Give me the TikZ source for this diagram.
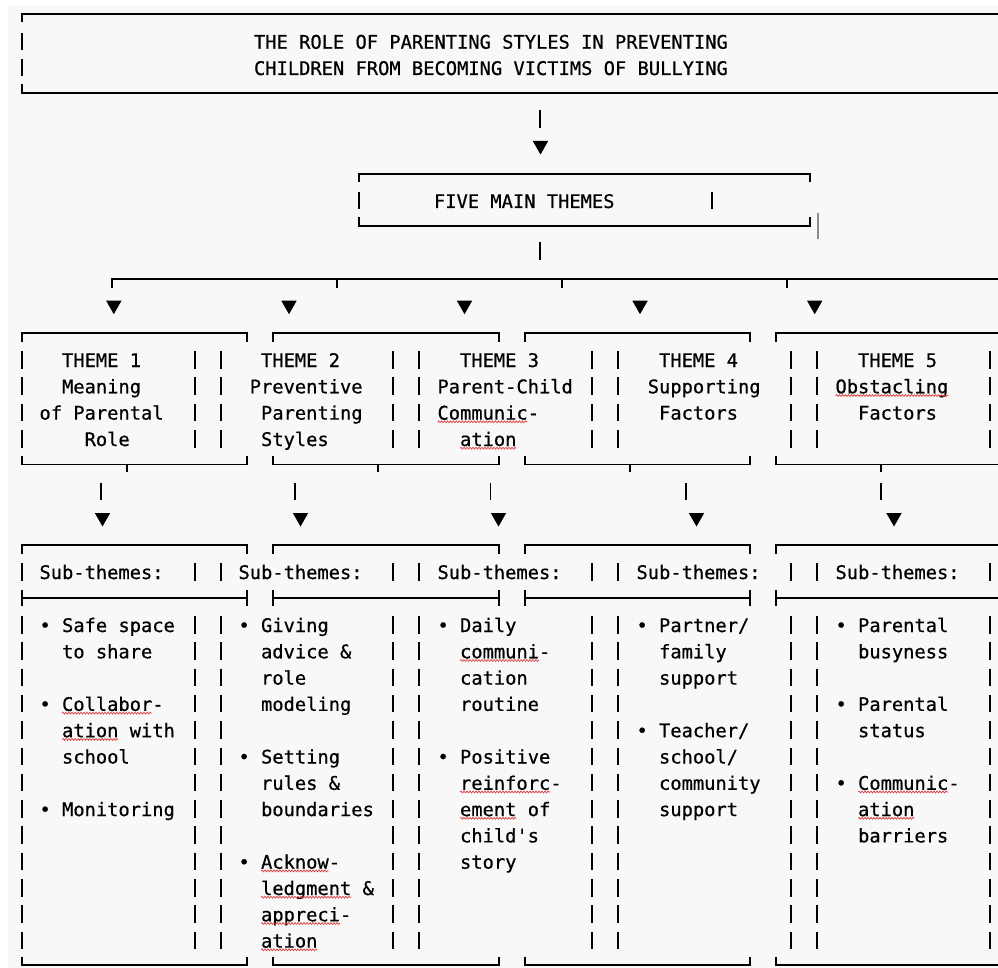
\documentclass[tikz,border=0pt]{standalone}
\usepackage{fontspec}
\setmonofont[FakeBold=0.6]{DejaVu Sans Mono}
\usetikzlibrary{decorations.pathmorphing}
\definecolor{bgc}{HTML}{F8F8F8}
\definecolor{sqred}{HTML}{E23A3A}
\definecolor{cursorgray}{HTML}{8C8C8C}
\tikzset{
  txt/.style={anchor=base west, inner sep=0pt, outer sep=0pt,
    font=\ttfamily\fontsize{18.74pt}{22pt}\selectfont, text=black},
  hl/.style={line width=1.5pt, black},
  vb/.style={line width=1.7pt, black},
  sqs/.style={draw=sqred, line width=0.7pt,
    decorate, decoration={snake, amplitude=0.9pt, segment length=3pt}},
}
\newcommand\vbr[2]{\draw[vb] (#1,#2-16) -- (#1,#2+1.5);}
\newcommand\tri[2]{\fill (#1-7.7,#2) -- (#1+7.7,#2) -- (#1,#2+13.5) -- cycle;}
\newcommand\boxtop[3]{\draw[hl] (#1,#3+8.5) -- (#1,#3) -- (#2,#3) -- (#2,#3+8.5);}
\newcommand\boxbot[3]{\draw[hl] (#1,#3-8.5) -- (#1,#3) -- (#2,#3) -- (#2,#3-8.5);}
\newcommand\sq[3]{\path[sqs] (#1,#2+2.2) -- (#1+#3*11.28,#2+2.2);}
\begin{document}
\begin{tikzpicture}[x=1pt,y=-1pt]
\useasboundingbox (0,0) rectangle (998,968);
\fill[white] (0,0) rectangle (998,968);
\fill[bgc] (8,6) rectangle (998,968);

% ---------- title box ----------
\draw[hl] (22,22.5) -- (22,14) -- (998,14);
\draw[hl] (22,84.5) -- (22,93) -- (998,93);
\vbr{22}{48.7}
\vbr{22}{75}
\node[txt] (title1) at (254,48.7) {THE ROLE OF PARENTING STYLES IN PREVENTING};
\node[txt] (title2) at (254,75) {CHILDREN FROM BECOMING VICTIMS OF BULLYING};

% arrow to five themes
\vbr{540}{126.5}
\tri{540.5}{141}

% ---------- five main themes ----------
\boxtop{359}{810}{174}
\boxbot{359}{810}{226}
\vbr{359}{208}
\vbr{712}{208}
\draw[cursorgray, line width=1.5pt] (818,213) -- (818,239.5);
\node[txt] (five) at (434,208) {FIVE MAIN THEMES};

\vbr{540}{258.5}

% distribution line
\draw[hl] (112,287.5) -- (112,279) -- (998,279);
\foreach \x in {337,562,787} {\draw[hl] (\x,279) -- (\x,287.5);}
\foreach \x in {113.8,289,464.5,640,814.7} {\tri{\x}{300.7}}

% ---------- theme boxes ----------
\boxtop{22}{247}{333}
\boxtop{273}{499}{333}
\boxtop{525}{750}{333}
\draw[hl] (776,341.5) -- (776,333) -- (998,333);
\boxbot{22}{247}{464.5}
\boxbot{273}{499}{464.5}
\boxbot{525}{750}{464.5}
\draw[hl] (776,456) -- (776,464.5) -- (998,464.5);
\foreach \x in {127,378,630,881} {\draw[hl] (\x,464.5) -- (\x,472);}
\foreach \x in {22,195,221,393,419,592,618,791,817,990}
  {\foreach \b in {367,393.3,419.6,446} {\vbr{\x}{\b}}}

\node[txt] (t1a) at (62.06,367) {THEME 1};
\node[txt] (t1b) at (62.06,393.3) {Meaning};
\node[txt] (t1c) at (39.5,419.6) {of Parental};
\node[txt] (t1d) at (84.62,446) {Role};
\node[txt] (t2a) at (261.06,367) {THEME 2};
\node[txt] (t2b) at (249.78,393.3) {Preventive};
\node[txt] (t2c) at (261.06,419.6) {Parenting};
\node[txt] (t2d) at (261.06,446) {Styles};
\node[txt] (t3a) at (460.06,367) {THEME 3};
\node[txt] (t3b) at (437.5,393.3) {Parent-Child};
\node[txt] (t3c) at (437.5,419.6) {Communic-};
\node[txt] (t3d) at (460.06,446) {ation};
\node[txt] (t4a) at (659.06,367) {THEME 4};
\node[txt] (t4b) at (647.78,393.3) {Supporting};
\node[txt] (t4c) at (659.06,419.6) {Factors};
\node[txt] (t5a) at (858.06,367) {THEME 5};
\node[txt] (t5b) at (835.5,393.3) {Obstacling};
\node[txt] (t5c) at (858.06,419.6) {Factors};

% arrows to sub-theme boxes
\foreach \x in {101,295,490.5,686,881} {\vbr{\x}{498.5}}
\foreach \x in {102.5,300.5,498.5,696.5,894} {\tri{\x}{513}}

% ---------- sub-theme boxes ----------
\boxtop{22}{247}{545}
\boxtop{273}{499}{545}
\boxtop{525}{750}{545}
\draw[hl] (776,553.5) -- (776,545) -- (998,545);
\foreach \a/\b in {22/247,273/499,525/750}
  {\draw[hl] (\a,598) -- (\b,598); \draw[hl] (\a,590) -- (\a,606); \draw[hl] (\b,590) -- (\b,606);}
\draw[hl] (776,598) -- (998,598); \draw[hl] (776,590) -- (776,606);
\boxbot{22}{247}{965}
\boxbot{273}{499}{965}
\boxbot{525}{750}{965}
\draw[hl] (776,956.5) -- (776,965) -- (998,965);
\foreach \x in {22,195,221,393,419,592,618,791,817,990}
  {\foreach \b in {579,632,658.3,684.6,710.9,737.2,763.5,789.8,816.1,842.4,868.7,895,921.3,947.6} {\vbr{\x}{\b}}}

\node[txt] (s1) at (39.5,579) {Sub-themes:};
\node[txt] (s2) at (238.5,579) {Sub-themes:};
\node[txt] (s3) at (437.5,579) {Sub-themes:};
\node[txt] (s4) at (636.5,579) {Sub-themes:};
\node[txt] (s5) at (835.5,579) {Sub-themes:};

% column A
\node[txt] (a1) at (39.5,632) {• Safe space};
\node[txt] (a2) at (62.06,658.3) {to share};
\node[txt] (a3) at (39.5,710.9) {• Collabor-};
\node[txt] (a4) at (62.06,737.2) {ation with};
\node[txt] (a5) at (62.06,763.5) {school};
\node[txt] (a6) at (39.5,816.1) {• Monitoring};
% column B
\node[txt] (b1) at (238.5,632) {• Giving};
\node[txt] (b2) at (261.06,658.3) {advice \&};
\node[txt] (b3) at (261.06,684.6) {role};
\node[txt] (b4) at (261.06,710.9) {modeling};
\node[txt] (b5) at (238.5,763.5) {• Setting};
\node[txt] (b6) at (261.06,789.8) {rules \&};
\node[txt] (b7) at (261.06,816.1) {boundaries};
\node[txt] (b8) at (238.5,868.7) {• Acknow-};
\node[txt] (b9) at (261.06,895) {ledgment \&};
\node[txt] (b10) at (261.06,921.3) {appreci-};
\node[txt] (b11) at (261.06,947.6) {ation};
% column C
\node[txt] (c1) at (437.5,632) {• Daily};
\node[txt] (c2) at (460.06,658.3) {communi-};
\node[txt] (c3) at (460.06,684.6) {cation};
\node[txt] (c4) at (460.06,710.9) {routine};
\node[txt] (c5) at (437.5,763.5) {• Positive};
\node[txt] (c6) at (460.06,789.8) {reinforc-};
\node[txt] (c7) at (460.06,816.1) {ement of};
\node[txt] (c8) at (460.06,842.4) {child's};
\node[txt] (c9) at (460.06,868.7) {story};
% column D
\node[txt] (d1) at (636.5,632) {• Partner/};
\node[txt] (d2) at (659.06,658.3) {family};
\node[txt] (d3) at (659.06,684.6) {support};
\node[txt] (d4) at (636.5,737.2) {• Teacher/};
\node[txt] (d5) at (659.06,763.5) {school/};
\node[txt] (d6) at (659.06,789.8) {community};
\node[txt] (d7) at (659.06,816.1) {support};
% column E
\node[txt] (e1) at (835.5,632) {• Parental};
\node[txt] (e2) at (858.06,658.3) {busyness};
\node[txt] (e3) at (835.5,710.9) {• Parental};
\node[txt] (e4) at (858.06,737.2) {status};
\node[txt] (e5) at (835.5,789.8) {• Communic-};
\node[txt] (e6) at (858.06,816.1) {ation};
\node[txt] (e7) at (858.06,842.4) {barriers};

% spell-check squiggles
\sq{437.5}{419.6}{8}
\sq{460.06}{446}{5}
\sq{835.5}{393.3}{10}
\sq{62.06}{710.9}{8}
\sq{62.06}{737.2}{5}
\sq{261.06}{868.7}{6}
\sq{261.06}{895}{8}
\sq{261.06}{921.3}{7}
\sq{261.06}{947.6}{5}
\sq{460.06}{658.3}{7}
\sq{460.06}{789.8}{8}
\sq{460.06}{816.1}{5}
\sq{858.06}{789.8}{8}
\sq{858.06}{816.1}{5}
\end{tikzpicture}
\end{document}
